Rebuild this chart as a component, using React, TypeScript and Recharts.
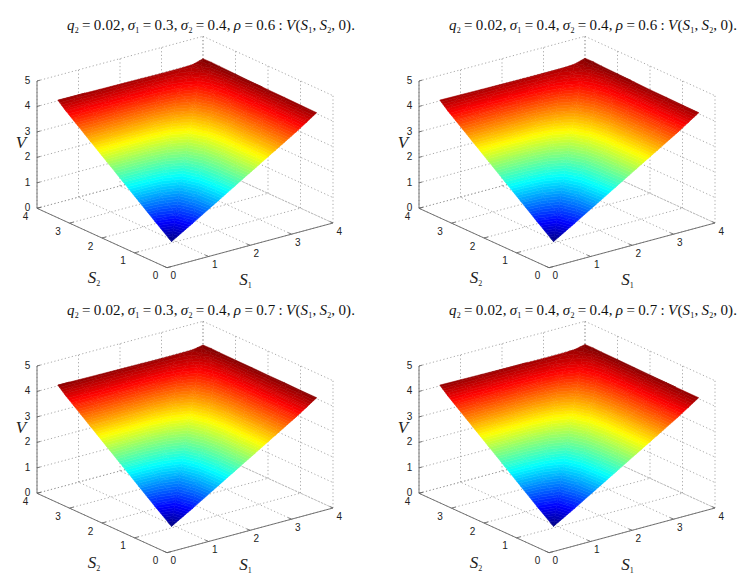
import React from 'react';
import { ScatterChart, Scatter, XAxis, YAxis } from 'recharts';

// ---------- data ----------
const sGrid = [0.5, 1, 1.5, 2, 2.5, 3, 3.5, 3.75, 4];
const s1Ticks = [0, 1, 2, 3, 4];
const s2Ticks = [0, 1, 2, 3, 4];
const vTicks = [0, 1, 2, 3, 4, 5];
const sigma1Values = ['0.3', '0.4', '0.3', '0.4'];
const rhoValues = ['0.6', '0.6', '0.7', '0.7'];

// rows: S2 along sGrid, columns: S1 along sGrid
const surfaceA = [
  [0.51, 1.0, 1.5, 2.0, 2.5, 3.0, 3.5, 3.77, 4.04],
  [1.0, 1.12, 1.53, 2.01, 2.51, 3.0, 3.5, 3.77, 4.05],
  [1.5, 1.53, 1.66, 2.05, 2.51, 3.01, 3.5, 3.77, 4.06],
  [2.0, 2.01, 2.05, 2.2, 2.56, 3.01, 3.51, 3.77, 4.07],
  [2.5, 2.5, 2.51, 2.56, 2.71, 3.07, 3.52, 3.78, 4.08],
  [3.0, 3.0, 3.0, 3.01, 3.07, 3.22, 3.57, 3.79, 4.1],
  [3.5, 3.5, 3.5, 3.5, 3.52, 3.57, 3.7, 3.86, 4.12],
  [3.75, 3.75, 3.75, 3.75, 3.75, 3.77, 3.85, 3.96, 4.13],
  [4.03, 4.02, 4.01, 4.0, 3.99, 3.98, 3.98, 4.0, 4.12],
];
const surfaceB = [
  [0.51, 1.0, 1.5, 2.0, 2.5, 3.0, 3.5, 3.77, 4.04],
  [1.0, 1.13, 1.54, 2.02, 2.51, 3.0, 3.5, 3.77, 4.05],
  [1.5, 1.54, 1.68, 2.06, 2.52, 3.01, 3.5, 3.77, 4.06],
  [2.0, 2.01, 2.06, 2.22, 2.58, 3.02, 3.51, 3.77, 4.07],
  [2.5, 2.5, 2.52, 2.58, 2.74, 3.09, 3.53, 3.78, 4.09],
  [3.0, 3.0, 3.01, 3.02, 3.09, 3.25, 3.59, 3.8, 4.11],
  [3.5, 3.5, 3.5, 3.51, 3.53, 3.59, 3.73, 3.88, 4.13],
  [3.75, 3.75, 3.75, 3.75, 3.76, 3.78, 3.87, 3.98, 4.15],
  [4.03, 4.02, 4.01, 4.0, 3.99, 3.99, 3.99, 4.02, 4.14],
];
const surfaceC = [
  [0.52, 1.0, 1.5, 2.0, 2.5, 3.0, 3.5, 3.77, 4.04],
  [1.0, 1.1, 1.52, 2.0, 2.5, 3.0, 3.5, 3.77, 4.04],
  [1.5, 1.52, 1.63, 2.04, 2.5, 3.0, 3.5, 3.77, 4.05],
  [2.0, 2.0, 2.04, 2.17, 2.55, 3.0, 3.5, 3.77, 4.05],
  [2.5, 2.5, 2.5, 2.55, 2.68, 3.05, 3.51, 3.77, 4.06],
  [3.0, 3.0, 3.0, 3.0, 3.05, 3.19, 3.55, 3.78, 4.06],
  [3.5, 3.5, 3.5, 3.5, 3.51, 3.55, 3.67, 3.83, 4.07],
  [3.75, 3.75, 3.75, 3.75, 3.75, 3.76, 3.83, 3.93, 4.08],
  [4.03, 4.02, 4.01, 4.0, 3.99, 3.98, 3.98, 3.99, 4.07],
];
const surfaceD = [
  [0.52, 1.0, 1.5, 2.0, 2.5, 3.0, 3.5, 3.77, 4.04],
  [1.0, 1.11, 1.53, 2.01, 2.5, 3.0, 3.5, 3.77, 4.04],
  [1.5, 1.53, 1.65, 2.05, 2.51, 3.0, 3.5, 3.77, 4.05],
  [2.0, 2.01, 2.05, 2.19, 2.56, 3.01, 3.5, 3.77, 4.06],
  [2.5, 2.5, 2.51, 2.56, 2.7, 3.06, 3.52, 3.77, 4.07],
  [3.0, 3.0, 3.0, 3.01, 3.06, 3.21, 3.56, 3.78, 4.08],
  [3.5, 3.5, 3.5, 3.5, 3.52, 3.56, 3.69, 3.85, 4.09],
  [3.75, 3.75, 3.75, 3.75, 3.75, 3.77, 3.84, 3.95, 4.1],
  [4.03, 4.02, 4.01, 4.0, 3.99, 3.98, 3.98, 4.0, 4.09],
];
const surfaces = [surfaceA, surfaceB, surfaceC, surfaceD];

// ---------- view ----------
const CHART_W = 366;
const CHART_H = 290;
const PANEL_POS = [[0, 0], [382, 0], [0, 285], [382, 285]];
const SERIF = '"Liberation Serif", "DejaVu Serif", serif';
const SANS = '"Liberation Sans", Arial, sans-serif';
const BANDS = 64;

type P3 = [number, number, number];
const project = ([s1, s2, v]: P3) => ({
  x: 167 + 41.5 * s1 - 32.5 * s2,
  y: 267.7 - 11.175 * s1 - 14.85 * s2 - 25.46 * v,
});

function jet(t: number) {
  const c = (k: number) => Math.round(255 * Math.max(0, Math.min(1, 1.5 - Math.abs(4 * t - k))));
  return `rgb(${c(3)},${c(2)},${c(1)})`;
}

function clip(poly: P3[], limit: number, keepAbove: boolean): P3[] {
  const out: P3[] = [];
  const inside = (p: P3) => (keepAbove ? p[2] >= limit : p[2] <= limit);
  poly.forEach((a, i) => {
    const b = poly[(i + 1) % poly.length];
    if (inside(a)) out.push(a);
    if (inside(a) !== inside(b)) {
      const t = (limit - a[2]) / (b[2] - a[2]);
      out.push([a[0] + t * (b[0] - a[0]), a[1] + t * (b[1] - a[1]), limit]);
    }
  });
  return out;
}

function buildBands(grid: number[][]) {
  const all = grid.flat();
  const lo = Math.min(...all);
  const hi = Math.max(...all);
  const step = (hi - lo) / BANDS;
  const tris: P3[][] = [];
  for (let j = 0; j < sGrid.length - 1; j++) {
    for (let i = 0; i < sGrid.length - 1; i++) {
      const a: P3 = [sGrid[i], sGrid[j], grid[j][i]];
      const b: P3 = [sGrid[i + 1], sGrid[j], grid[j][i + 1]];
      const c: P3 = [sGrid[i + 1], sGrid[j + 1], grid[j + 1][i + 1]];
      const d: P3 = [sGrid[i], sGrid[j + 1], grid[j + 1][i]];
      tris.push([a, b, c], [a, c, d]);
    }
  }
  const points: { x: number; y: number }[] = [];
  const polys: { start: number; count: number; color: string }[] = [];
  for (let k = 0; k < BANDS; k++) {
    const l = lo + k * step;
    const h = l + step;
    const color = jet((k + 0.5) / BANDS);
    tris.forEach((t) => {
      const mn = Math.min(t[0][2], t[1][2], t[2][2]);
      const mx = Math.max(t[0][2], t[1][2], t[2][2]);
      if (mx < l || mn > h) return;
      const piece = clip(clip(t, l, true), h, false);
      if (piece.length < 3) return;
      polys.push({ start: points.length, count: piece.length, color });
      piece.forEach((p) => points.push(project(p)));
    });
  }
  return { points, polys };
}

function segs(list: [P3, P3][]) {
  return list.flatMap(([a, b]) => [project(a), project(b)]);
}

const floorAndWalls = segs([
  ...s1Ticks.flatMap((s): [P3, P3][] => [
    [[s, 0, 0], [s, 4, 0]],
    [[s, 4, 0], [s, 4, 5]],
  ]),
  ...s2Ticks.flatMap((s): [P3, P3][] => [
    [[0, s, 0], [4, s, 0]],
    [[4, s, 0], [4, s, 5]],
  ]),
  ...vTicks.flatMap((v): [P3, P3][] => [
    [[0, 4, v], [4, 4, v]],
    [[4, 4, v], [4, 0, v]],
  ]),
]);

const axisLines = segs([
  [[0, 0, 0], [4, 0, 0]],
  [[0, 0, 0], [0, 4, 0]],
  [[0, 4, 0], [0, 4, 5]],
  ...s1Ticks.map((s): [P3, P3] => [[s, 0, 0], [s, 0.1, 0]]),
  ...s2Ticks.map((s): [P3, P3] => [[0, s, 0], [0.1, s, 0]]),
  ...vTicks.map((v): [P3, P3] => [[0, 4, v], [0.08, 4, v]]),
]);

const tickLabels = [
  ...s1Ticks.map((s) => {
    const p = project([s, 0, 0]);
    return { x: p.x + 6.2, y: p.y + 8.2, text: String(s) };
  }),
  ...s2Ticks.map((s) => {
    const p = project([0, s, 0]);
    return { x: p.x - 11.5, y: p.y + 8, text: String(s) };
  }),
  ...vTicks.map((v) => {
    const p = project([0, 4, v]);
    return { x: p.x - 9.5, y: p.y - 0.5, text: String(v) };
  }),
];

const noMark = () => <g />;

const segmentLine = (stroke: string, width: number, dash?: string) => (props: any) => {
  const pts = props.points as { x: number; y: number }[];
  let d = '';
  for (let i = 0; i + 1 < pts.length; i += 2) {
    d += `M${pts[i].x} ${pts[i].y}L${pts[i + 1].x} ${pts[i + 1].y}`;
  }
  return <path d={d} fill="none" stroke={stroke} strokeWidth={width} strokeDasharray={dash} />;
};

const Sub = ({ c }: { c: string }) => (
  <tspan fontSize={8} dy={3}>{c}</tspan>
);

function Title({ cx, cy, sigma1, rho }: any) {
  const it = { fontStyle: 'italic' as const };
  return (
    <text x={cx} y={cy} fontFamily={SERIF} fontSize={15} fill="#111" textLength={288} lengthAdjust="spacing">
      <tspan {...it}>q</tspan><Sub c="2" /><tspan dy={-3}>{'\u2009=\u20090.02,\u2009'}</tspan>
      <tspan {...it}>σ</tspan><Sub c="1" /><tspan dy={-3}>{`\u2009=\u2009${sigma1},\u2009`}</tspan>
      <tspan {...it}>σ</tspan><Sub c="2" /><tspan dy={-3}>{'\u2009=\u20090.4,\u2009'}</tspan>
      <tspan {...it}>ρ</tspan><tspan>{`\u2009=\u2009${rho}\u2009:\u2009`}</tspan>
      <tspan {...it}>V</tspan><tspan>(</tspan>
      <tspan {...it}>S</tspan><Sub c="1" /><tspan dy={-3}>{',\u2009'}</tspan>
      <tspan {...it}>S</tspan><Sub c="2" /><tspan dy={-3}>{',\u20090).'}</tspan>
    </text>
  );
}

function AxisName({ cx, cy, name, sub }: any) {
  return (
    <text x={cx} y={cy} fontFamily={SERIF} fontSize={17} fill="#222" textAnchor="middle" fontStyle="italic">
      {name}
      {sub ? <tspan fontSize={8} dy={3} fontStyle="normal">{sub}</tspan> : null}
    </text>
  );
}

function Panel({ index }: { index: number }) {
  const { points, polys } = buildBands(surfaces[index]);
  const [left, top] = PANEL_POS[index];
  const surfaceLine = (props: any) => {
    const pts = props.points as { x: number; y: number }[];
    return (
      <g>
        {polys.map((p, i) => (
          <polygon
            key={i}
            points={pts.slice(p.start, p.start + p.count).map((q) => `${q.x},${q.y}`).join(' ')}
            fill={p.color}
            stroke={p.color}
            strokeWidth={0.5}
            strokeLinejoin="round"
          />
        ))}
      </g>
    );
  };
  return (
    <div style={{ position: 'absolute', left, top, width: CHART_W, height: CHART_H }}>
      <ScatterChart width={CHART_W} height={CHART_H} margin={{ top: 0, right: 0, bottom: 0, left: 0 }}>
        <XAxis type="number" dataKey="x" domain={[0, CHART_W]} hide />
        <YAxis type="number" dataKey="y" domain={[0, CHART_H]} reversed hide />
        <Scatter data={floorAndWalls} shape={noMark} line={segmentLine('#999', 0.85, '1.2 2.4')} isAnimationActive={false} />
        <Scatter data={axisLines} shape={noMark} line={segmentLine('#666', 0.9)} isAnimationActive={false} />
        <Scatter data={points} shape={noMark} line={surfaceLine} isAnimationActive={false} />
        <Scatter
          data={tickLabels}
          isAnimationActive={false}
          shape={(p: any) => (
            <text x={p.cx} y={p.cy} dy={3.5} fontFamily={SANS} fontSize={10} fill="#222" textAnchor="middle">
              {p.payload.text}
            </text>
          )}
        />
        <Scatter
          data={[{ x: 67, y: 30 }]}
          isAnimationActive={false}
          shape={(p: any) => <Title cx={p.cx} cy={p.cy} sigma1={sigma1Values[index]} rho={rhoValues[index]} />}
        />
        <Scatter
          data={[
            { x: 21, y: 148, name: 'V' },
            { x: 94, y: 283, name: 'S', sub: '2' },
            { x: 245.5, y: 285, name: 'S', sub: '1' },
          ]}
          isAnimationActive={false}
          shape={(p: any) => <AxisName cx={p.cx} cy={p.cy} name={p.payload.name} sub={p.payload.sub} />}
        />
      </ScatterChart>
    </div>
  );
}

export default function App() {
  return (
    <div style={{ position: 'absolute', left: 0, top: 0, width: 748, height: 580, background: '#fff', overflow: 'hidden' }}>
      {surfaces.map((_, i) => <Panel key={i} index={i} />)}
    </div>
  );
}
